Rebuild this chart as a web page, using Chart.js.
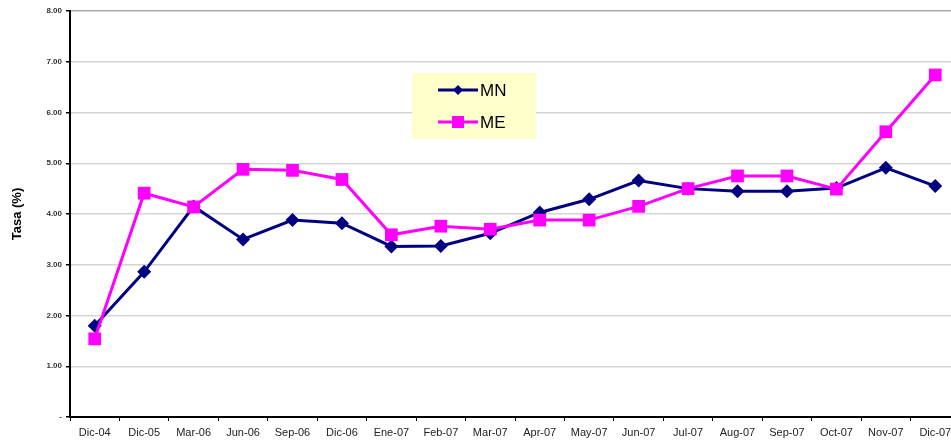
<!DOCTYPE html>
<html>
<head>
<meta charset="utf-8">
<script src="https://cdn.jsdelivr.net/npm/chart.js@4/dist/chart.umd.min.js"></script>
<style>
  html, body { margin: 0; padding: 0; background: #fff; }
  #wrap { width: 951px; height: 441px; overflow: hidden; position: relative; }
  #box { width: 969px; height: 441px; position: absolute; left: 0; top: 0; }
</style>
</head>
<body>
<div id="wrap"><div id="box"><canvas id="chart"></canvas></div></div>
<script>
// categories and series
const months = ['Dic-04', 'Dic-05', 'Mar-06', 'Jun-06', 'Sep-06', 'Dic-06', 'Ene-07', 'Feb-07', 'Mar-07',
  'Apr-07', 'May-07', 'Jun-07', 'Jul-07', 'Aug-07', 'Sep-07', 'Oct-07', 'Nov-07', 'Dic-07'];
const mnValues = [1.80, 2.86, 4.15, 3.50, 3.88, 3.82, 3.36, 3.37, 3.62,
  4.03, 4.29, 4.66, 4.50, 4.45, 4.45, 4.51, 4.91, 4.55];
const meValues = [1.54, 4.41, 4.14, 4.88, 4.86, 4.68, 3.59, 3.76, 3.70,
  3.88, 3.88, 4.15, 4.50, 4.75, 4.75, 4.49, 5.62, 6.74];
const yTicks = [0, 1, 2, 3, 4, 5, 6, 7, 8];

const FONT = 'Arial, "Liberation Sans", sans-serif';
const NAVY = '#000080';
const PINK = '#FF00FF';

// legend box like the Excel one: pale yellow, line + marker samples
const legendBox = {
  id: 'legendBox',
  afterDraw(chart) {
    const ctx = chart.ctx;
    ctx.save();
    ctx.fillStyle = '#FFFFCC';
    ctx.fillRect(412, 73, 124, 66);
    const rows = [
      { label: 'MN', color: NAVY, y: 90, shape: 'diamond' },
      { label: 'ME', color: PINK, y: 122, shape: 'square' }
    ];
    rows.forEach(r => {
      ctx.strokeStyle = r.color;
      ctx.lineWidth = 3;
      ctx.beginPath();
      ctx.moveTo(438, r.y);
      ctx.lineTo(478, r.y);
      ctx.stroke();
      ctx.fillStyle = r.color;
      if (r.shape === 'diamond') {
        ctx.beginPath();
        ctx.moveTo(458, r.y - 5);
        ctx.lineTo(463, r.y);
        ctx.lineTo(458, r.y + 5);
        ctx.lineTo(453, r.y);
        ctx.closePath();
        ctx.fill();
      } else {
        ctx.fillRect(452, r.y - 6, 12, 12);
      }
      ctx.fillStyle = '#000';
      ctx.font = '17px ' + FONT;
      ctx.textBaseline = 'middle';
      ctx.textAlign = 'left';
      ctx.fillText(r.label, 480, r.y + 1);
    });
    ctx.restore();
  }
};

new Chart(document.getElementById('chart'), {
  type: 'line',
  data: {
    labels: months,
    datasets: [
      {
        label: 'MN',
        data: mnValues,
        borderColor: NAVY,
        backgroundColor: NAVY,
        borderWidth: 3,
        pointStyle: 'rectRot',
        pointRadius: 7,
        pointHoverRadius: 7,
        pointBorderWidth: 0,
        tension: 0,
        order: 2
      },
      {
        label: 'ME',
        data: meValues,
        borderColor: PINK,
        backgroundColor: PINK,
        borderWidth: 3,
        pointStyle: 'rect',
        pointRadius: 9,
        pointHoverRadius: 9,
        pointBorderWidth: 0,
        tension: 0,
        order: 1
      }
    ]
  },
  plugins: [legendBox],
  options: {
    responsive: true,
    maintainAspectRatio: false,
    animation: false,
    layout: { padding: { top: 11, right: 0, bottom: 0, left: 0 } },
    plugins: {
      legend: { display: false },
      tooltip: { enabled: false }
    },
    scales: {
      x: {
        offset: true,
        afterFit: s => { s.height = 24; },
        grid: {
          offset: true,
          drawOnChartArea: false,
          drawTicks: true,
          tickLength: 4,
          tickColor: '#000',
          tickWidth: 1
        },
        border: { display: true, color: '#000', width: 2 },
        ticks: {
          color: '#222',
          font: { family: FONT, size: 11 },
          padding: 5,
          maxRotation: 0,
          autoSkip: false
        }
      },
      y: {
        min: 0,
        max: 8,
        afterFit: s => { s.width = 70; },
        afterBuildTicks: s => { s.ticks = yTicks.map(v => ({ value: v })); },
        grid: {
          color: ctx => ctx.tick && ctx.tick.value === 8 ? '#aaaaaa' : '#d4d4d4',
          lineWidth: 1.5,
          tickLength: 4,
          tickColor: '#000'
        },
        border: { display: true, color: '#000', width: 2 },
        ticks: {
          color: '#333',
          font: { family: FONT, size: 8, weight: 'bold' },
          padding: 4,
          callback: v => v === 0 ? '-' : v.toFixed(2)
        },
        title: {
          display: true,
          text: 'Tasa (%)',
          color: '#000',
          font: { family: FONT, size: 13, weight: 'bold' },
          padding: { top: 10, bottom: 0 }
        }
      }
    }
  }
});
</script>
</body>
</html>
